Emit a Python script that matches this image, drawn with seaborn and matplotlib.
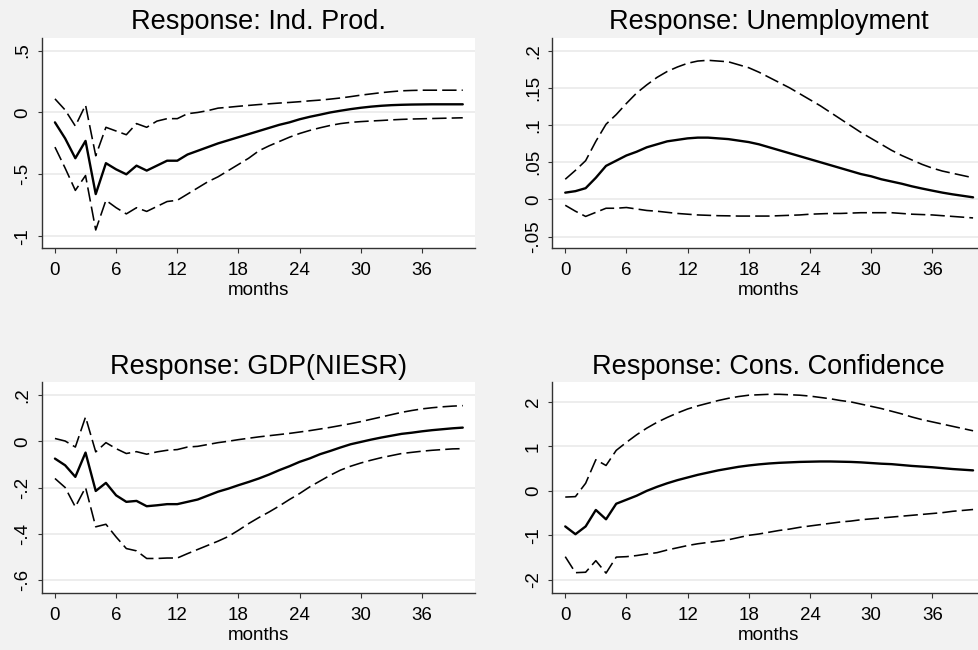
import numpy as np
import pandas as pd
import matplotlib
matplotlib.use("Agg")
import matplotlib.pyplot as plt
import seaborn as sns

# impulse responses, months 0..40
months = list(range(41))

ip_irf = [-0.08, -0.21, -0.37, -0.23, -0.66, -0.41, -0.46, -0.50, -0.43, -0.47,
          -0.43, -0.39, -0.39, -0.34, -0.31, -0.28, -0.25, -0.225, -0.20, -0.175,
          -0.15, -0.125, -0.10, -0.08, -0.055, -0.035, -0.018, 0.0, 0.014, 0.027,
          0.038, 0.047, 0.054, 0.059, 0.062, 0.064, 0.065, 0.066, 0.066, 0.066, 0.066]
ip_upper = [0.11, 0.02, -0.11, 0.06, -0.35, -0.12, -0.15, -0.18, -0.09, -0.12,
            -0.07, -0.05, -0.05, -0.01, 0.0, 0.015, 0.035, 0.042, 0.05, 0.057,
            0.064, 0.07, 0.076, 0.081, 0.087, 0.094, 0.100, 0.108, 0.117, 0.128,
            0.140, 0.150, 0.160, 0.168, 0.175, 0.178, 0.180, 0.180, 0.180, 0.180, 0.180]
ip_lower = [-0.28, -0.45, -0.63, -0.51, -0.95, -0.71, -0.77, -0.82, -0.77, -0.80,
            -0.76, -0.72, -0.71, -0.66, -0.61, -0.56, -0.52, -0.47, -0.42, -0.37,
            -0.31, -0.27, -0.235, -0.20, -0.17, -0.145, -0.124, -0.105, -0.09, -0.08,
            -0.074, -0.069, -0.065, -0.06, -0.056, -0.053, -0.051, -0.049, -0.047, -0.045, -0.043]

un_irf = [0.009, 0.011, 0.015, 0.029, 0.045, 0.052, 0.059, 0.064, 0.070, 0.074,
          0.078, 0.080, 0.082, 0.083, 0.083, 0.082, 0.081, 0.079, 0.077, 0.074,
          0.070, 0.066, 0.062, 0.058, 0.054, 0.050, 0.046, 0.042, 0.038, 0.034,
          0.031, 0.027, 0.024, 0.021, 0.0175, 0.0145, 0.0117, 0.009, 0.0067, 0.0047, 0.0027]
un_upper = [0.027, 0.039, 0.052, 0.078, 0.101, 0.114, 0.129, 0.143, 0.154, 0.164,
            0.172, 0.178, 0.183, 0.186, 0.187, 0.186, 0.185, 0.181, 0.177, 0.171,
            0.164, 0.157, 0.150, 0.142, 0.134, 0.126, 0.117, 0.108, 0.099, 0.090,
            0.082, 0.074, 0.066, 0.059, 0.053, 0.047, 0.042, 0.038, 0.035, 0.032, 0.029]
un_lower = [-0.008, -0.016, -0.023, -0.0175, -0.012, -0.012, -0.011, -0.013, -0.015, -0.016,
            -0.0175, -0.019, -0.020, -0.021, -0.0215, -0.022, -0.0222, -0.0225, -0.0225, -0.0225,
            -0.0225, -0.022, -0.0215, -0.021, -0.020, -0.0195, -0.019, -0.019, -0.0185, -0.018,
            -0.018, -0.018, -0.018, -0.019, -0.020, -0.0205, -0.021, -0.022, -0.023, -0.024, -0.025]

gdp_irf = [-0.075, -0.104, -0.154, -0.049, -0.215, -0.18, -0.234, -0.262, -0.258, -0.281,
           -0.277, -0.272, -0.272, -0.262, -0.252, -0.235, -0.218, -0.205, -0.19, -0.176,
           -0.161, -0.144, -0.125, -0.108, -0.089, -0.074, -0.056, -0.042, -0.027, -0.013,
           -0.003, 0.007, 0.016, 0.024, 0.032, 0.037, 0.043, 0.048, 0.052, 0.056, 0.059]
gdp_upper = [0.012, 0.001, -0.025, 0.105, -0.046, -0.006, -0.032, -0.053, -0.045, -0.056,
             -0.046, -0.039, -0.036, -0.025, -0.022, -0.014, -0.006, 0.0, 0.007, 0.013,
             0.019, 0.024, 0.029, 0.034, 0.040, 0.046, 0.053, 0.060, 0.068, 0.076,
             0.085, 0.095, 0.105, 0.115, 0.125, 0.133, 0.140, 0.145, 0.149, 0.152, 0.154]
gdp_lower = [-0.161, -0.20, -0.284, -0.20, -0.37, -0.359, -0.414, -0.464, -0.474, -0.507,
             -0.507, -0.505, -0.505, -0.486, -0.468, -0.45, -0.432, -0.412, -0.385, -0.356,
             -0.33, -0.306, -0.28, -0.252, -0.226, -0.197, -0.172, -0.147, -0.125, -0.108,
             -0.094, -0.082, -0.071, -0.062, -0.053, -0.048, -0.043, -0.039, -0.036, -0.033, -0.032]

conf_irf = [-0.80, -0.975, -0.80, -0.43, -0.64, -0.29, -0.20, -0.11, 0.0, 0.09,
            0.17, 0.24, 0.30, 0.36, 0.41, 0.46, 0.50, 0.54, 0.57, 0.595,
            0.615, 0.63, 0.64, 0.65, 0.655, 0.66, 0.66, 0.655, 0.65, 0.64,
            0.625, 0.61, 0.60, 0.58, 0.56, 0.545, 0.53, 0.51, 0.49, 0.475, 0.46]
conf_upper = [-0.14, -0.13, 0.17, 0.70, 0.57, 0.91, 1.09, 1.26, 1.41, 1.54,
              1.65, 1.75, 1.84, 1.91, 1.97, 2.03, 2.08, 2.12, 2.15, 2.16,
              2.17, 2.17, 2.16, 2.15, 2.13, 2.10, 2.07, 2.03, 2.00, 1.95,
              1.90, 1.85, 1.79, 1.73, 1.66, 1.60, 1.55, 1.50, 1.45, 1.40, 1.35]
conf_lower = [-1.48, -1.84, -1.83, -1.57, -1.85, -1.49, -1.48, -1.455, -1.42, -1.39,
              -1.33, -1.28, -1.23, -1.19, -1.16, -1.13, -1.10, -1.05, -1.0, -0.97,
              -0.93, -0.89, -0.86, -0.82, -0.79, -0.76, -0.73, -0.70, -0.68, -0.65,
              -0.63, -0.61, -0.59, -0.57, -0.55, -0.53, -0.51, -0.49, -0.46, -0.44, -0.42]

titles = ["Response: Ind. Prod.", "Response: Unemployment",
          "Response: GDP(NIESR)", "Response: Cons. Confidence"]
x_ticks = [0, 6, 12, 18, 24, 30, 36]
y_ticks = [[-1, -0.5, 0, 0.5],
           [-0.05, 0, 0.05, 0.1, 0.15, 0.2],
           [-0.6, -0.4, -0.2, 0, 0.2],
           [-2, -1, 0, 1, 2]]
y_labels = [["-1", "-.5", "0", ".5"],
            ["-.05", "0", ".05", ".1", ".15", ".2"],
            ["-.6", "-.4", "-.2", "0", ".2"],
            ["-2", "-1", "0", "1", "2"]]
y_lims = [(-1.099, 0.602), (-0.066, 0.217), (-0.655, 0.255), (-2.29, 2.44)]

panels = [(ip_irf, ip_upper, ip_lower),
          (un_irf, un_upper, un_lower),
          (gdp_irf, gdp_upper, gdp_lower),
          (conf_irf, conf_upper, conf_lower)]

sns.set_style("white")
plt.rcParams["font.family"] = ["Liberation Sans", "DejaVu Sans"]
plt.rcParams["text.color"] = "black"
plt.rcParams["axes.labelcolor"] = "black"
plt.rcParams["xtick.color"] = "black"
plt.rcParams["ytick.color"] = "black"

W, H = 979, 650
fig = plt.figure(figsize=(W / 100, H / 100), dpi=100, facecolor="#f2f2f2")

# axes boxes in pixels: left, top
boxes = [(42, 38), (552.3, 38), (42, 382.3), (552.3, 382.3)]
aw, ah = 433, 210.4
dash = (0, (9, 3.2))

for i, (irf, up, lo) in enumerate(panels):
    left, top = boxes[i]
    ax = fig.add_axes([left / W, (H - top - ah) / H, aw / W, ah / H])
    ax.set_facecolor("white")

    df = pd.DataFrame({"month": months, "irf": irf, "upper": up, "lower": lo})
    sns.lineplot(data=df, x="month", y="upper", ax=ax, color="black",
                 linewidth=1.15, linestyle=dash, errorbar=None)
    sns.lineplot(data=df, x="month", y="lower", ax=ax, color="black",
                 linewidth=1.15, linestyle=dash, errorbar=None)
    sns.lineplot(data=df, x="month", y="irf", ax=ax, color="black",
                 linewidth=1.7, errorbar=None)

    ax.set_xlim(-1.27, 41.2)
    ax.set_ylim(*y_lims[i])
    ax.set_xticks(x_ticks)
    ax.set_xticklabels([str(t) for t in x_ticks])
    ax.set_yticks(y_ticks[i])
    ax.set_yticklabels(y_labels[i], rotation=90, va="center")

    ax.grid(axis="y", color="#eaeaea", linewidth=1.2)
    ax.grid(axis="x", visible=False)
    ax.set_axisbelow(True)

    for s in ["top", "right"]:
        ax.spines[s].set_visible(False)
    for s in ["left", "bottom"]:
        ax.spines[s].set_color("#333333")
        ax.spines[s].set_linewidth(1.0)

    ax.tick_params(axis="x", direction="out", length=3.6, width=0.8,
                   color="#333333", labelcolor="black", pad=6.5,
                   labelsize=13.5, bottom=True)
    ax.tick_params(axis="y", direction="out", length=3, width=0.8,
                   color="#333333", labelcolor="black", pad=4.5,
                   labelsize=13.5, left=True)

    ax.set_xlabel("months", fontsize=13.5, labelpad=2, color="black")
    ax.set_ylabel("")
    ax.set_title(titles[i], fontsize=19.5, pad=6.3, color="black")

fig.savefig("out.png", dpi=100, facecolor=fig.get_facecolor())
